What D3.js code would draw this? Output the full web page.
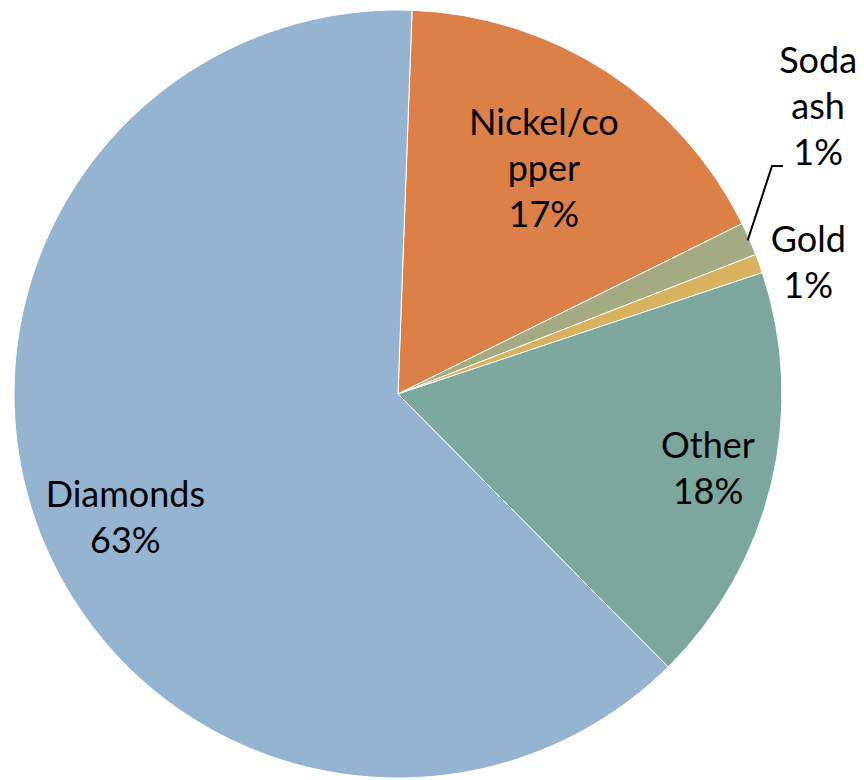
<!DOCTYPE html>
<html>
<head>
<meta charset="utf-8">
<script src="https://cdn.jsdelivr.net/npm/d3@7"></script>
<style>
  html, body { margin: 0; padding: 0; background: #fff; }
  svg text { font-family: "Century Gothic", "Futura", Lato, sans-serif; font-size: 36px; fill: #000; }
</style>
</head>
<body>
<div id="chart"></div>
<script>
// data (percent of total)
const categories = ["Nickel/copper", "Soda ash", "Gold", "Other", "Diamonds"];
const values = [17.1, 1.4, 0.8, 17.7, 63.0];
const labelLines = [["Nickel/co", "pper", "17%"], ["Soda", "ash", "1%"], ["Gold", "1%"], ["Other", "18%"], ["Diamonds", "63%"]];

const width = 864, height = 780;
const cx = 398, cy = 394, radius = 384;
const lineH = 46;

// where each label block sits: radius factor and angle (deg, null = slice middle)
const labelPlace = [[0.70, null], [1.326, 55.6], [1.122, 72.2], [0.83, null], [0.779, 245.7]];

const color = d3.scaleOrdinal()
  .domain(categories)
  .range(["#DD8047", "#A5AB81", "#D8B25C", "#7BA79D", "#94B4D2"]);

const svg = d3.select("#chart")
  .append("svg")
  .attr("width", width)
  .attr("height", height)
  .append("g")
  .attr("transform", `translate(${cx},${cy})`);

const pie = d3.pie()
  .sort(null)
  .value(d => d)
  .startAngle(2.1 * Math.PI / 180)
  .endAngle(2.1 * Math.PI / 180 + 2 * Math.PI);

const arcs = pie(values);
const arc = d3.arc().innerRadius(0).outerRadius(radius);

svg.selectAll("path.slice")
  .data(arcs)
  .join("path")
  .attr("class", "slice")
  .attr("d", arc)
  .attr("fill", (d, i) => color(categories[i]))
  .attr("stroke", "#fff")
  .attr("stroke-width", 1);

// leader line for soda ash
const soda = arcs[1];
const sodaMid = (soda.startAngle + soda.endAngle) / 2;
const p0 = [Math.sin(sodaMid) * (radius - 4) + 2, -Math.cos(sodaMid) * (radius - 4)];
svg.append("polyline")
  .attr("points", [p0, [374, -228], [385, -228]].map(p => p.join(",")).join(" "))
  .attr("fill", "none")
  .attr("stroke", "#000")
  .attr("stroke-width", 2);

svg.selectAll("text.lbl")
  .data(arcs)
  .join("text")
  .attr("class", "lbl")
  .attr("text-anchor", "middle")
  .each(function (d, i) {
    const [rf, deg] = labelPlace[i];
    const a = deg === null ? (d.startAngle + d.endAngle) / 2 : deg * Math.PI / 180;
    const x = Math.sin(a) * radius * rf;
    const y = -Math.cos(a) * radius * rf;
    const lines = labelLines[i];
    const y0 = y - (lines.length - 1) * lineH / 2 + 13;
    d3.select(this).selectAll("tspan")
      .data(lines)
      .join("tspan")
      .attr("x", x)
      .attr("y", (t, j) => y0 + j * lineH)
      .text(t => t);
  });
</script>
</body>
</html>
